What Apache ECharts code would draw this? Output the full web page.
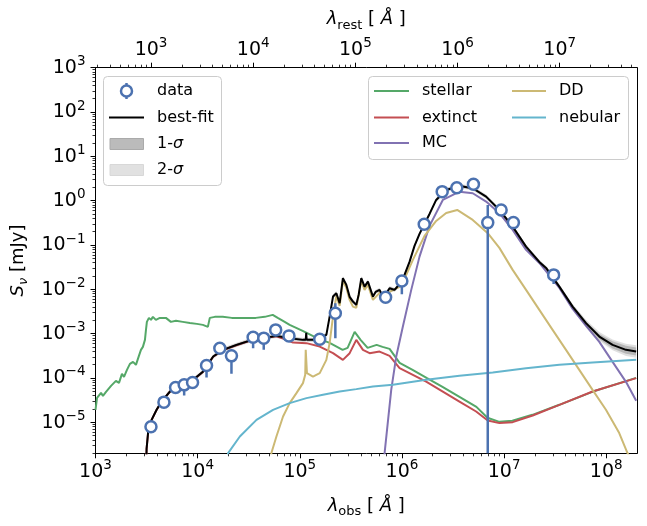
<!DOCTYPE html>
<html>
<head>
<meta charset="utf-8">
<script src="https://cdn.jsdelivr.net/npm/echarts@6/dist/echarts.min.js"></script>
<style>
html, body { margin: 0; padding: 0; background: #fff; }
#sed { width: 647px; height: 526px; }
</style>
</head>
<body>
<div id="sed"></div>
<script>
// all values are log10(lambda / Angstrom) and log10(S_nu / mJy)
var zPlus1 = 3.5;                       // rest frame axis: lambda_rest = lambda_obs / (1+z)
var xMin = 3, xMax = 8.301;
var yMin = -5.699, yMax = 3;
var majorObs = [3, 4, 5, 6, 7, 8];
var majorRest = [3, 4, 5, 6, 7];
var majorFlux = [-5, -4, -3, -2, -1, 0, 1, 2, 3];

/** photometry **/
var obsLam  = [3.543, 3.670, 3.784, 3.868, 3.950, 4.087, 4.217, 4.331, 4.543, 4.647, 4.764, 4.894,
               5.195, 5.348, 5.840, 5.999, 6.218, 6.394, 6.537, 6.700, 6.840, 6.971, 7.091, 7.485];
var obsFlux = [-5.100, -4.545, -4.215, -4.155, -4.103, -3.719, -3.327, -3.501, -3.079, -3.101, -2.915, -3.050,
               -3.125, -2.538, -2.177, -1.810, -0.530, 0.204, 0.294, 0.371, -0.495, -0.209, -0.495, -1.674];
var obsLo   = [-5.16, -4.58, -4.25, -4.396, -4.13, -3.990, -3.35, -3.906, -3.327, -3.365, -2.94, -3.08,
               -3.15, -3.101, -2.20, -2.109, -0.55, 0.18, 0.27, 0.35, -9.0, -0.23, -0.52, -1.88];
var obsHi   = [-5.04, -4.51, -4.18, -4.12, -4.08, -3.69, -3.30, -3.365, -3.05, -3.08, -2.89, -3.02,
               -3.10, -2.313, -2.15, -1.79, -0.51, 0.22, 0.31, 0.39, -0.096, -0.19, -0.47, -1.62];

/** best fit + 1/2 sigma half widths (dex) **/
var bestFit = [[3.492,-6.5],[3.500,-5.6],[3.516,-5.207],[3.549,-4.944],[3.598,-4.718],[3.647,-4.531],
  [3.728,-4.306],[3.826,-4.154],[3.956,-4.042],[4.054,-3.855],[4.152,-3.516],[4.249,-3.365],[4.380,-3.253],
  [4.510,-3.156],[4.640,-3.101],[4.771,-3.050],[4.901,-3.101],[5.031,-3.140],[5.058,-3.140],[5.063,-2.982],
  [5.067,-3.140],[5.162,-3.140],[5.260,-3.027],[5.292,-2.614],[5.325,-2.163],[5.358,-2.087],[5.390,-2.312],
  [5.422,-1.749],[5.456,-1.900],[5.488,-2.170],[5.520,-2.276],[5.553,-2.351],[5.576,-2.125],[5.602,-1.749],
  [5.634,-1.938],[5.667,-1.825],[5.716,-2.163],[5.742,-2.058],[5.781,-2.012],[5.810,-2.148],[5.847,-2.087],
  [5.879,-1.974],[5.928,-2.012],[5.977,-1.877],[6.025,-1.674],[6.074,-1.381],[6.123,-1.020],[6.172,-0.750],
  [6.221,-0.524],[6.270,-0.299],[6.335,0.017],[6.433,0.242],[6.563,0.333],[6.693,0.281],[6.824,0.091],
  [6.954,-0.209],[7.084,-0.585],[7.215,-1.036],[7.345,-1.381],[7.411,-1.516],[7.541,-1.938],[7.671,-2.389],
  [7.802,-2.763],[7.932,-3.065],[8.062,-3.253],[8.193,-3.365],[8.293,-3.404]];
var sig1 = [0.03,0.03,0.03,0.03,0.03,0.03,0.03,0.03,0.03,0.03,
            0.03,0.03,0.03,0.03,0.03,0.03,0.03,0.03,0.03,0.03,
            0.03,0.03,0.03,0.03,0.03,0.03,0.03,0.03,0.03,0.03,
            0.03,0.03,0.03,0.03,0.03,0.03,0.03,0.03,0.03,0.03,
            0.03,0.03,0.03,0.03,0.03,0.03,0.03,0.03,0.03,0.03,
            0.03,0.03,0.03,0.03,0.03,0.03,0.03,0.03,0.03,0.03,
            0.03,0.035,0.045,0.06,0.08,0.09,0.09];
var sig2 = [0.05,0.05,0.05,0.05,0.05,0.05,0.05,0.05,0.05,0.05,
            0.05,0.05,0.05,0.05,0.05,0.05,0.05,0.05,0.05,0.05,
            0.05,0.05,0.05,0.05,0.05,0.05,0.05,0.05,0.05,0.05,
            0.05,0.05,0.05,0.05,0.05,0.05,0.05,0.05,0.05,0.05,
            0.05,0.05,0.05,0.05,0.05,0.05,0.05,0.05,0.05,0.05,
            0.05,0.05,0.05,0.05,0.05,0.05,0.05,0.05,0.05,0.05,
            0.05,0.06,0.075,0.10,0.12,0.14,0.14];

/** components **/
var stellar = [[3.000,-4.718],[3.015,-4.448],[3.034,-4.493],[3.054,-4.335],[3.073,-4.403],[3.103,-4.312],
  [3.122,-4.357],[3.152,-4.177],[3.171,-4.222],[3.200,-4.064],[3.230,-4.109],[3.259,-3.906],[3.279,-3.974],
  [3.308,-3.816],[3.337,-3.681],[3.367,-3.636],[3.396,-3.703],[3.425,-3.501],[3.445,-3.365],[3.464,-3.298],
  [3.484,-3.140],[3.494,-2.914],[3.503,-2.734],[3.523,-2.644],[3.543,-2.689],[3.562,-2.621],[3.591,-2.689],
  [3.630,-2.644],[3.689,-2.644],[3.738,-2.734],[3.787,-2.711],[3.855,-2.734],[3.924,-2.757],[3.992,-2.779],
  [4.051,-2.802],[4.100,-2.847],[4.119,-2.644],[4.168,-2.621],[4.246,-2.621],[4.334,-2.644],[4.412,-2.644],
  [4.569,-2.644],[4.657,-2.621],[4.735,-2.576],[4.784,-2.644],[4.852,-2.734],[4.901,-2.802],[5.028,-2.937],
  [5.165,-3.095],[5.292,-3.207],[5.419,-3.365],[5.468,-3.320],[5.537,-2.959],[5.595,-3.140],[5.664,-3.320],
  [5.752,-3.253],[5.810,-3.298],[5.879,-3.343],[5.977,-3.658],[6.104,-3.816],[6.241,-3.997],[6.397,-4.200],
  [6.563,-4.425],[6.729,-4.651],[6.837,-4.898],[6.954,-4.989],[7.081,-4.966],[7.277,-4.831],[7.541,-4.605],
  [7.863,-4.312],[8.293,-3.997]];
var extinct = [[3.492,-6.5],[3.500,-5.6],[3.516,-5.21],[3.549,-4.95],[3.598,-4.72],[3.647,-4.535],
  [3.728,-4.31],[3.826,-4.16],[3.956,-4.045],[4.054,-3.86],[4.152,-3.52],[4.249,-3.37],[4.380,-3.26],
  [4.510,-3.16],[4.640,-3.105],[4.771,-3.06],[4.850,-3.12],[4.934,-3.201],[5.065,-3.214],[5.195,-3.291],
  [5.325,-3.440],[5.422,-3.591],[5.488,-3.440],[5.553,-3.140],[5.618,-3.365],[5.683,-3.440],[5.781,-3.404],
  [5.879,-3.501],[5.977,-3.778],[6.107,-3.929],[6.237,-4.080],[6.400,-4.306],[6.563,-4.531],[6.726,-4.756],
  [6.840,-4.959],[6.954,-5.018],[7.084,-4.996],[7.280,-4.847],[7.541,-4.605],[7.866,-4.306],[8.293,-4.003]];
var mc = [[5.800,-6.5],[5.830,-5.694],[5.895,-4.267],[5.944,-3.516],[6.009,-2.840],[6.091,-2.012],
  [6.172,-1.262],[6.270,-0.569],[6.400,0.017],[6.563,0.204],[6.693,0.168],[6.824,-0.021],[6.954,-0.283],
  [7.084,-0.660],[7.215,-1.110],[7.345,-1.404],[7.541,-1.967],[7.671,-2.441],[7.802,-2.824],[7.932,-3.185],
  [8.062,-3.636],[8.193,-4.087],[8.293,-4.515]];
var dd = [[4.700,-6.5],[4.722,-5.694],[4.771,-5.320],[4.836,-4.869],[4.901,-4.567],[4.967,-4.342],
  [5.031,-4.116],[5.053,-3.929],[5.058,-3.365],[5.065,-3.365],[5.070,-3.891],[5.129,-3.967],[5.195,-3.891],
  [5.260,-3.591],[5.292,-3.214],[5.325,-2.614],[5.358,-2.148],[5.390,-2.373],[5.422,-1.810],[5.456,-1.967],
  [5.488,-2.238],[5.520,-2.389],[5.553,-2.418],[5.602,-1.810],[5.634,-2.012],[5.667,-1.900],[5.716,-2.238],
  [5.781,-2.080],[5.847,-2.170],[5.879,-2.058],[5.977,-1.945],[6.025,-1.764],[6.107,-1.336],[6.221,-0.795],
  [6.335,-0.457],[6.433,-0.276],[6.541,-0.209],[6.693,-0.434],[6.840,-0.734],[6.954,-1.065],[7.084,-1.561],
  [7.215,-2.012],[7.345,-2.463],[7.475,-2.914],[7.606,-3.365],[7.736,-3.816],[7.866,-4.267],[7.997,-4.718],
  [8.127,-5.243],[8.208,-5.694],[8.260,-5.9]];
var nebular = [[4.270,-6.3],[4.298,-5.694],[4.413,-5.320],[4.576,-4.944],[4.738,-4.718],[4.901,-4.567],
  [5.065,-4.454],[5.227,-4.380],[5.390,-4.306],[5.553,-4.251],[5.716,-4.193],[5.911,-4.154],[6.238,-4.042],
  [6.563,-3.951],[6.889,-3.877],[7.215,-3.778],[7.541,-3.703],[7.866,-3.652],[8.293,-3.591]];

var FONT = 'DejaVu Sans';
var BLUE = '#4c72b0';

function minorTicks(lo, hi) {
	var out = [];
	for (var n = Math.floor(lo); n <= Math.ceil(hi); n++) {
		for (var k = 2; k <= 9; k++) {
			var v = n + Math.log10(k);
			if (v >= lo - 1e-9 && v <= hi + 1e-9) out.push(v);
		}
	}
	return out;
}

function powLabel(v) {
	var e = Math.round(v);
	return '{b|10}{s|' + (e < 0 ? '\u2212' + (-e) : e) + '}';
}
var powRich = {
	b: { fontSize: 19, fontFamily: FONT, color: '#000', lineHeight: 20, verticalAlign: 'bottom' },
	s: { fontSize: 13.5, fontFamily: FONT, color: '#000', lineHeight: 14, verticalAlign: 'bottom', padding: [0, 0, 9, 0] }
};
var nameRich = {
	n: { fontSize: 18, fontFamily: FONT, color: '#000', lineHeight: 20, verticalAlign: 'top' },
	i: { fontSize: 18, fontFamily: FONT, fontStyle: 'italic', color: '#000', lineHeight: 20, verticalAlign: 'top' },
	sub: { fontSize: 13, fontFamily: FONT, color: '#000', lineHeight: 13, verticalAlign: 'top', padding: [8, 0, 0, 0] },
	isub: { fontSize: 13, fontFamily: FONT, fontStyle: 'italic', color: '#000', lineHeight: 13, verticalAlign: 'top', padding: [8, 0, 0, 0] }
};

function mainAxis(pos, min, max, ticks, name, gap) {
	return {
		type: 'value', min: min, max: max, position: pos,
		axisLine: { show: true, onZero: false, lineStyle: { color: '#000', width: 1 } },
		axisTick: { show: true, length: 5, customValues: ticks, lineStyle: { color: '#000', width: 1 } },
		axisLabel: { show: true, customValues: ticks, formatter: powLabel, rich: powRich, margin: pos === 'left' ? 10 : 8 },
		splitLine: { show: false },
		name: name, nameLocation: 'middle', nameGap: gap,
		nameTextStyle: { rich: nameRich }
	};
}
function minorAxis(pos, min, max) {
	return {
		type: 'value', min: min, max: max, position: pos,
		axisLine: { show: false, onZero: false },
		axisTick: { show: true, length: 3, customValues: minorTicks(min, max), lineStyle: { color: '#000', width: 0.8 } },
		axisLabel: { show: false },
		splitLine: { show: false }
	};
}

function lineSeries(name, data, color, z) {
	return {
		name: name, type: 'line', data: data, xAxisIndex: 0, yAxisIndex: 0,
		showSymbol: false, symbol: 'none', clip: true, z: z,
		lineStyle: { color: color, width: 2 }
	};
}

function bandSeries(name, sig, color, z) {
	return {
		name: name, type: 'custom', xAxisIndex: 0, yAxisIndex: 0, clip: true, z: z, silent: true,
		data: [[5, 0]],
		renderItem: function (params, api) {
			var pts = [], i;
			for (i = 0; i < bestFit.length; i++) pts.push(api.coord([bestFit[i][0], bestFit[i][1] + sig[i]]));
			for (i = bestFit.length - 1; i >= 0; i--) pts.push(api.coord([bestFit[i][0], bestFit[i][1] - sig[i]]));
			return { type: 'polygon', shape: { points: pts }, style: { fill: color } };
		}
	};
}

var restShift = Math.log10(zPlus1);

var chart = echarts.init(document.getElementById('sed'));

var option = {
	animation: false,
	backgroundColor: '#fff',
	grid: { left: 95.5, right: 10, top: 67.7, bottom: 72.7 },
	xAxis: [
		mainAxis('bottom', xMin, xMax, majorObs, '{i|λ}{sub|obs}{n| [ }{i|Å}{n| ]}', 44),
		minorAxis('bottom', xMin, xMax),
		mainAxis('top', xMin - restShift, xMax - restShift, majorRest, '{i|λ}{sub|rest}{n| [ }{i|Å}{n| ]}', 33),
		minorAxis('top', xMin - restShift, xMax - restShift)
	],
	yAxis: [
		mainAxis('left', yMin, yMax, majorFlux, '{i|S}{isub|ν}{n| [mJy]}', 54),
		minorAxis('left', yMin, yMax),
		{
			type: 'value', min: yMin, max: yMax, position: 'right',
			axisLine: { show: true, onZero: false, lineStyle: { color: '#000', width: 1 } },
			axisTick: { show: false }, axisLabel: { show: false }, splitLine: { show: false }
		}
	],
	series: [
		lineSeries('stellar', stellar, '#55a868', 2),
		lineSeries('extinct', extinct, '#c44e52', 2),
		lineSeries('MC', mc, '#8172b2', 2),
		lineSeries('DD', dd, '#ccb974', 2),
		lineSeries('nebular', nebular, '#64b5cd', 2),
		bandSeries('2-σ', sig2, 'rgba(0,0,0,0.12)', 3),
		bandSeries('1-σ', sig1, 'rgba(0,0,0,0.18)', 3),
		lineSeries('best-fit', bestFit, '#000', 4),
		{
			name: 'err', type: 'custom', xAxisIndex: 0, yAxisIndex: 0, clip: true, z: 5, silent: true,
			data: obsLam.map(function (l, i) { return [l, obsLo[i], obsHi[i]]; }),
			encode: { x: 0, y: [1, 2] },
			renderItem: function (params, api) {
				var a = api.coord([api.value(0), api.value(1)]);
				var b = api.coord([api.value(0), api.value(2)]);
				return { type: 'line', shape: { x1: a[0], y1: a[1], x2: b[0], y2: b[1] },
					style: { stroke: BLUE, lineWidth: 2.5 } };
			}
		},
		{
			name: 'data', type: 'scatter', xAxisIndex: 0, yAxisIndex: 0, z: 6,
			data: obsLam.map(function (l, i) { return [l, obsFlux[i]]; }),
			symbol: 'circle', symbolSize: 11,
			itemStyle: { color: '#fff', borderColor: BLUE, borderWidth: 2.5, opacity: 1 }
		}
	],
	graphic: [
		/** legend, left **/
		{ type: 'rect', z: 100, shape: { x: 103.5, y: 76.5, width: 118, height: 109, r: 4 },
		  style: { fill: 'rgba(255,255,255,0.8)', stroke: '#cccccc', lineWidth: 1 } },
		{ type: 'line', z: 101, shape: { x1: 126.5, y1: 83, x2: 126.5, y2: 99 }, style: { stroke: BLUE, lineWidth: 2.5 } },
		{ type: 'circle', z: 102, shape: { cx: 126.5, cy: 91, r: 5.5 }, style: { fill: '#fff', stroke: BLUE, lineWidth: 2.5 } },
		{ type: 'line', z: 101, shape: { x1: 109, y1: 117.5, x2: 144, y2: 117.5 }, style: { stroke: '#000', lineWidth: 2 } },
		{ type: 'rect', z: 101, shape: { x: 110, y: 138.5, width: 33.5, height: 11 }, style: { fill: '#bbbbbb', stroke: '#aaaaaa', lineWidth: 1 } },
		{ type: 'rect', z: 101, shape: { x: 110, y: 164.5, width: 33.5, height: 11 }, style: { fill: '#e1e1e1', stroke: '#d8d8d8', lineWidth: 1 } },
		{ type: 'text', z: 101, x: 157, y: 91, style: { text: 'data', fill: '#000', fontSize: 16, fontFamily: FONT, verticalAlign: 'middle' } },
		{ type: 'text', z: 101, x: 157, y: 117.5, style: { text: 'best-fit', fill: '#000', fontSize: 16, fontFamily: FONT, verticalAlign: 'middle' } },
		{ type: 'text', z: 101, x: 157, y: 144, style: { text: '{n|1-}{i|σ}', verticalAlign: 'middle',
		  rich: { n: { fontSize: 16, fontFamily: FONT, fill: '#000' }, i: { fontSize: 16, fontFamily: FONT, fontStyle: 'italic', fill: '#000' } } } },
		{ type: 'text', z: 101, x: 157, y: 170, style: { text: '{n|2-}{i|σ}', verticalAlign: 'middle',
		  rich: { n: { fontSize: 16, fontFamily: FONT, fill: '#000' }, i: { fontSize: 16, fontFamily: FONT, fontStyle: 'italic', fill: '#000' } } } },

		/** legend, right **/
		{ type: 'rect', z: 100, shape: { x: 368.5, y: 76.5, width: 260, height: 83, r: 4 },
		  style: { fill: 'rgba(255,255,255,0.8)', stroke: '#cccccc', lineWidth: 1 } },
		{ type: 'line', z: 101, shape: { x1: 374, y1: 91, x2: 409, y2: 91 }, style: { stroke: '#55a868', lineWidth: 2 } },
		{ type: 'line', z: 101, shape: { x1: 374, y1: 117.5, x2: 409, y2: 117.5 }, style: { stroke: '#c44e52', lineWidth: 2 } },
		{ type: 'line', z: 101, shape: { x1: 374, y1: 143, x2: 409, y2: 143 }, style: { stroke: '#8172b2', lineWidth: 2 } },
		{ type: 'line', z: 101, shape: { x1: 512, y1: 91, x2: 546, y2: 91 }, style: { stroke: '#ccb974', lineWidth: 2 } },
		{ type: 'line', z: 101, shape: { x1: 512, y1: 117.5, x2: 546, y2: 117.5 }, style: { stroke: '#64b5cd', lineWidth: 2 } },
		{ type: 'text', z: 101, x: 422, y: 91, style: { text: 'stellar', fill: '#000', fontSize: 16, fontFamily: FONT, verticalAlign: 'middle' } },
		{ type: 'text', z: 101, x: 422, y: 117.5, style: { text: 'extinct', fill: '#000', fontSize: 16, fontFamily: FONT, verticalAlign: 'middle' } },
		{ type: 'text', z: 101, x: 422, y: 143, style: { text: 'MC', fill: '#000', fontSize: 16, fontFamily: FONT, verticalAlign: 'middle' } },
		{ type: 'text', z: 101, x: 559, y: 91, style: { text: 'DD', fill: '#000', fontSize: 16, fontFamily: FONT, verticalAlign: 'middle' } },
		{ type: 'text', z: 101, x: 559, y: 117.5, style: { text: 'nebular', fill: '#000', fontSize: 16, fontFamily: FONT, verticalAlign: 'middle' } }
	]
};
chart.setOption(option);
</script>
</body>
</html>
